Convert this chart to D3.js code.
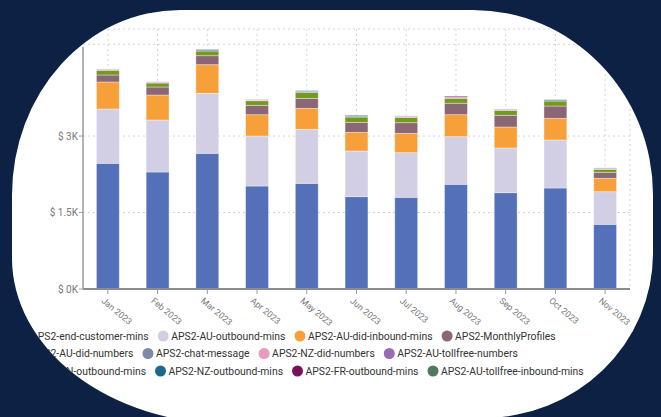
<!DOCTYPE html>
<html>
<head>
<meta charset="utf-8">
<script src="https://cdn.jsdelivr.net/npm/d3@7"></script>
<style>
  body { margin: 0; background: #0d2145; }
  svg { display: block; }
</style>
</head>
<body>
<script>
// donnees
const mois = ["Jan 2023", "Feb 2023", "Mar 2023", "Apr 2023", "May 2023", "Jun 2023",
  "Jul 2023", "Aug 2023", "Sep 2023", "Oct 2023", "Nov 2023"];

const seriesNames = ["APS2-end-customer-mins", "APS2-AU-outbound-mins", "APS2-AU-did-inbound-mins",
  "APS2-MonthlyProfiles", "APS2-AU-did-numbers", "APS2-chat-message", "APS2-NZ-did-numbers",
  "APS2-AU-tollfree-numbers", "APS2-CN-outbound-mins", "APS2-NZ-outbound-mins",
  "APS2-FR-outbound-mins", "APS2-AU-tollfree-inbound-mins"];

const couleurs = ["#5470b9", "#d2cee4", "#f7a03a", "#8b6674", "#74991f", "#7c8aa8",
  "#e89ac0", "#9a6bb5", "#c9a227", "#1b6a8e", "#7a0f5a", "#4f7a5b"];

const endCustomer     = [2466, 2295, 2662, 2020, 2073, 1811, 1799, 2054, 1889, 1981, 1269];
const auOutbound      = [1065, 1020, 1177, 981, 1059, 896, 875, 934, 877, 942, 639];
const auDidInbound    = [530, 490, 561, 418, 412, 366, 380, 432, 412, 425, 263];
const monthlyProfiles = [137, 157, 176, 184, 196, 196, 208, 224, 229, 241, 118];
const auDidNumbers    = [92, 78, 92, 90, 118, 104, 106, 98, 98, 98, 59];
const chatMessage     = [0, 0, 25, 0, 20, 20, 0, 0, 0, 25, 0];
const nzDidNumbers    = [15, 15, 0, 15, 0, 0, 18, 10, 18, 0, 12];
const auTollfreeNums  = [8, 8, 0, 8, 0, 0, 10, 8, 8, 0, 15];
const cnOutbound      = [0, 0, 0, 0, 0, 0, 0, 0, 0, 0, 0];
const nzOutbound      = [0, 0, 10, 0, 12, 15, 0, 0, 0, 5, 0];
const frOutbound      = [0, 0, 0, 0, 0, 0, 0, 20, 0, 0, 0];
const auTollfreeIn    = [0, 0, 0, 0, 0, 0, 0, 0, 0, 0, 0];

const valeurs = [endCustomer, auOutbound, auDidInbound, monthlyProfiles, auDidNumbers,
  chatMessage, nzDidNumbers, auTollfreeNums, cnOutbound, nzOutbound, frOutbound, auTollfreeIn];

const yTicks = [0, 1500, 3000];
const yTickLabels = ["$ 0K", "$ 1.5K", "$ 3K"];
const yGrid = [1500, 3000, 4800, 5100];
const legendRows = [[0, 1, 2, 3], [4, 5, 6, 7], [8, 9, 10, 11]];

// cadre
const largeur = 661;
const hauteur = 417;
const gauche = 83, droite = 630, haut = 29, bas = 289;

const svg = d3.select("body").append("svg")
  .attr("width", largeur)
  .attr("height", hauteur);

svg.append("rect").attr("width", largeur).attr("height", hauteur).attr("fill", "#0d2145");

// la forme blanche arrondie
const forme = "M180,10 H473 A180,185 0 0 1 653,195 V253 A170,165 0 0 1 483,418 L230,424 A218,166 0 0 1 12,257 V195 A168,185 0 0 1 180,10 Z";
svg.append("clipPath").attr("id", "clip").append("path").attr("d", forme);
svg.append("path").attr("d", forme).attr("fill", "#ffffff");

const g = svg.append("g").attr("clip-path", "url(#clip)");

// echelles
const x = d3.scaleBand()
  .domain(mois)
  .range([gauche, droite])
  .paddingInner(0.54)
  .paddingOuter(0.27);

const y = d3.scaleLinear()
  .domain([0, 5100])
  .range([bas, haut]);

// grille
g.selectAll(".gridY").data(yGrid).join("line")
  .attr("x1", gauche).attr("x2", droite)
  .attr("y1", d => y(d)).attr("y2", d => y(d))
  .attr("stroke", "#d4d4d4").attr("stroke-dasharray", "2,3");

g.selectAll(".gridX").data(mois).join("line")
  .attr("x1", d => x(d) + x.bandwidth() / 2).attr("x2", d => x(d) + x.bandwidth() / 2)
  .attr("y1", y(5100)).attr("y2", bas)
  .attr("stroke", "#d4d4d4").attr("stroke-dasharray", "2,3");

g.append("line")
  .attr("x1", droite).attr("x2", droite).attr("y1", y(5100)).attr("y2", bas)
  .attr("stroke", "#d4d4d4").attr("stroke-dasharray", "2,3");

// empilement
const table = mois.map((m, i) => {
  const row = { mois: m };
  seriesNames.forEach((s, k) => row[s] = valeurs[k][i]);
  return row;
});
const stack = d3.stack().keys(seriesNames)(table);

g.selectAll(".serie").data(stack).join("g")
  .attr("fill", (d, k) => couleurs[k])
  .selectAll("rect").data(d => d).join("rect")
  .attr("x", d => x(d.data.mois))
  .attr("width", x.bandwidth())
  .attr("y", d => y(d[1]))
  .attr("height", d => Math.max(0, y(d[0]) - y(d[1])))
  .attr("stroke", "#ffffff")
  .attr("stroke-opacity", 0.45)
  .attr("stroke-width", 0.8);

// axes
g.append("line")
  .attr("x1", gauche).attr("x2", gauche).attr("y1", y(4750)).attr("y2", bas)
  .attr("stroke", "#9a9a9a").attr("stroke-width", 1.5);

g.selectAll(".tickY").data(yTicks).join("line")
  .attr("x1", gauche - 4).attr("x2", gauche)
  .attr("y1", d => y(d)).attr("y2", d => y(d))
  .attr("stroke", "#9a9a9a");

g.selectAll(".labelY").data(yTicks).join("text")
  .attr("x", gauche - 5)
  .attr("y", d => y(d))
  .attr("dy", "0.35em")
  .attr("text-anchor", "end")
  .style("font-family", "Roboto, sans-serif")
  .style("font-size", "10px")
  .attr("fill", "#777")
  .text((d, i) => yTickLabels[i]);

g.append("line")
  .attr("x1", gauche).attr("x2", droite).attr("y1", bas).attr("y2", bas)
  .attr("stroke", "#8c8c8c").attr("stroke-width", 2);

g.selectAll(".tickX").data(mois).join("line")
  .attr("x1", d => x(d) + x.bandwidth() / 2).attr("x2", d => x(d) + x.bandwidth() / 2)
  .attr("y1", bas).attr("y2", bas + 5)
  .attr("stroke", "#9a9a9a");

g.selectAll(".labelX").data(mois).join("text")
  .attr("transform", d => `translate(${x(d) + x.bandwidth() / 2 - 3},${bas + 8}) rotate(40)`)
  .attr("dy", "0.7em")
  .style("font-family", "Roboto, sans-serif")
  .style("font-size", "8.8px")
  .attr("fill", "#777")
  .text(d => d);

// legende
const legende = g.append("g")
  .style("font-family", "Roboto, sans-serif")
  .style("font-size", "10.4px");

legendRows.forEach((row, r) => {
  const ly = 336 + r * 17.5;
  let cx = 23;
  row.forEach(k => {
    legende.append("circle")
      .attr("cx", cx).attr("cy", ly).attr("r", 5.5)
      .attr("fill", couleurs[k]);
    const t = legende.append("text")
      .attr("x", cx + 8).attr("y", ly).attr("dy", "0.35em")
      .attr("fill", "#333")
      .text(seriesNames[k]);
    cx += 8 + t.node().getComputedTextLength() + 14.5;
  });
});
</script>
</body>
</html>
